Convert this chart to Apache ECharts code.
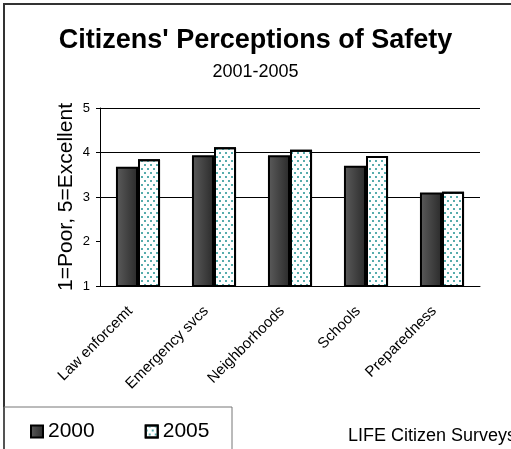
<!DOCTYPE html>
<html>
<head>
<meta charset="utf-8">
<script src="https://cdn.jsdelivr.net/npm/echarts@6/dist/echarts.min.js"></script>
<style>
  html, body { margin: 0; padding: 0; background: #fff; }
  #main { width: 511px; height: 449px; }
</style>
</head>
<body>
<div id="main"></div>
<script>
// categories and survey scores (1=Poor, 5=Excellent)
var categories = ['Law enforcemt', 'Emergency svcs', 'Neighborhoods', 'Schools', 'Preparedness'];
var scores2000 = [3.68, 3.94, 3.94, 3.70, 3.10];
var scores2005 = [3.85, 4.12, 4.06, 3.92, 3.12];
var yTicks = [1, 2, 3, 4, 5];

var myChart = echarts.init(document.getElementById('main'));
var font = 'Liberation Sans, Arial, sans-serif';

var option = {
  animation: false,
  backgroundColor: '#fff',
  textStyle: { fontFamily: font },
  title: [
    {
      text: "Citizens' Perceptions of Safety",
      left: 'center',
      top: 22,
      textStyle: { fontSize: 27, fontWeight: 'bold', color: '#000', fontFamily: font }
    },
    {
      text: '2001-2005',
      left: 'center',
      top: 58,
      textStyle: { fontSize: 18, fontWeight: 'normal', color: '#000', fontFamily: font }
    },
    {
      text: 'LIFE Citizen Surveys',
      left: 343,
      top: 422,
      textStyle: { fontSize: 18, fontWeight: 'normal', color: '#000', fontFamily: font }
    }
  ],
  legend: {
    left: 25,
    top: 416,
    itemWidth: 12,
    itemHeight: 12,
    itemGap: 50,
    icon: 'rect',
    textStyle: { fontSize: 21, color: '#000', fontFamily: font },
    data: ['2000', '2005']
  },
  graphic: [
    {
      type: 'rect',
      shape: { x: 4, y: 4, width: 530, height: 470 },
      style: { fill: 'none', stroke: '#333', lineWidth: 2 },
      silent: true
    },
    {
      type: 'rect',
      shape: { x: 4, y: 407, width: 228, height: 60 },
      style: { fill: 'none', stroke: '#777', lineWidth: 1 },
      silent: true
    }
  ],
  grid: { left: 100, right: 31, top: 108, bottom: 163 },
  xAxis: {
    type: 'category',
    data: categories,
    axisLine: { lineStyle: { color: '#000', width: 1 } },
    axisTick: { length: 5, lineStyle: { color: '#000' } },
    axisLabel: {
      rotate: 45, fontSize: 15, color: '#000', margin: 15, interval: 0,
      padding: [0, 11, 0, 0], fontFamily: font
    }
  },
  yAxis: {
    type: 'value',
    min: yTicks[0],
    max: yTicks[yTicks.length - 1],
    interval: 1,
    name: '1=Poor, 5=Excellent',
    nameLocation: 'middle',
    nameGap: 23,
    nameMoveOverlap: false,
    nameTextStyle: { fontSize: 21, color: '#000', fontFamily: font },
    axisLine: { show: true, lineStyle: { color: '#000', width: 1 } },
    axisTick: { show: true, length: 4, lineStyle: { color: '#000' } },
    axisLabel: { fontSize: 13, color: '#000', margin: 10, fontFamily: font },
    splitLine: {
      show: true,
      lineStyle: { color: ['#000', 'rgba(0,0,0,0)', '#000', '#000', '#000'], width: 1 }
    }
  },
  series: [
    {
      name: '2000',
      type: 'bar',
      data: scores2000,
      barGap: '0%',
      barCategoryGap: '42%',
      itemStyle: {
        color: new echarts.graphic.LinearGradient(0, 0, 1, 0, [
          { offset: 0, color: '#5c5c5c' },
          { offset: 1, color: '#2a2a2a' }
        ]),
        borderColor: '#000',
        borderWidth: 2
      }
    },
    {
      name: '2005',
      type: 'bar',
      data: scores2005,
      itemStyle: {
        color: '#fff',
        borderColor: '#000',
        borderWidth: 2,
        decal: {
          symbol: 'circle',
          symbolSize: 1,
          color: '#1f9090',
          dashArrayX: [[2, 4], [0, 3, 2, 1]],
          dashArrayY: [2, 1.5],
          rotation: 0
        }
      }
    }
  ]
};

myChart.setOption(option);
</script>
</body>
</html>
